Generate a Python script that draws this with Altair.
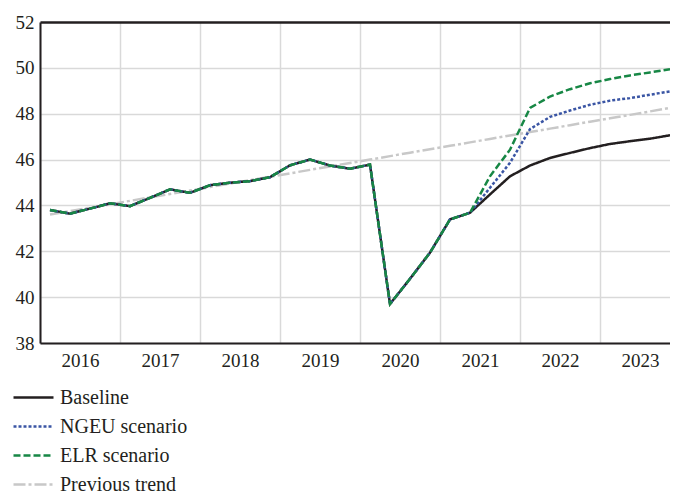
import altair as alt
import pandas as pd

years = [2016, 2017, 2018, 2019, 2020, 2021, 2022, 2023]
quarters = [f"{y}Q{q}" for y in years for q in (1, 2, 3, 4)]

baseline = [43.80, 43.64, 43.86, 44.09, 43.97, 44.33, 44.70, 44.55,
            44.88, 44.99, 45.06, 45.23, 45.75, 46.00, 45.74, 45.60,
            45.78, 39.70, 40.80, 41.94, 43.39, 43.68, 44.48, 45.27,
            45.74, 46.07, 46.29, 46.50, 46.68, 46.80, 46.91, 47.06]
ngeu = baseline[:22] + [44.77, 45.86, 47.33, 47.86, 48.14, 48.39, 48.57, 48.68, 48.83, 48.97]
elr = baseline[:22] + [45.27, 46.43, 48.25, 48.75, 49.07, 49.33, 49.51, 49.67, 49.80, 49.94]
trend = [43.60, 43.75, 43.90, 44.05, 44.20, 44.35, 44.50, 44.65,
         44.80, 44.95, 45.10, 45.25, 45.40, 45.55, 45.70, 45.85,
         46.00, 46.15, 46.30, 46.45, 46.60, 46.75, 46.90, 47.05,
         47.20, 47.35, 47.50, 47.65, 47.80, 47.95, 48.10, 48.25]

series_names = ["Baseline", "NGEU scenario", "ELR scenario", "Previous trend"]
series_colors = ["#231f20", "#3a55a4", "#178745", "#c8c8c8"]
series_dashes = [[1, 0], [3, 2], [7, 3], [12, 3, 3, 3]]

rows = []
draw_order = [("Previous trend", trend), ("Baseline", baseline),
              ("NGEU scenario", ngeu), ("ELR scenario", elr)]
for k, (name, vals) in enumerate(draw_order):
    for i, (q, v) in enumerate(zip(quarters, vals)):
        yr = int(q[:4]); qn = int(q[-1])
        rows.append({"quarter": q, "t": yr + (qn - 0.5) / 4, "value": v,
                     "series": name, "z": k})
df = pd.DataFrame(rows)

FONT = "Liberation Serif"
TXT = "#231f20"

chart = alt.Chart(df).mark_line(strokeWidth=2.5).encode(
    x=alt.X("t:Q", scale=alt.Scale(domain=[2016, 2023.875], nice=False, zero=False),
            axis=alt.Axis(title=None, values=years, format="d", labelOffset=40,
                          grid=True, gridColor="#d9d9d9", gridWidth=1.5,
                          ticks=False, labelPadding=8, labelFlush=False,
                          labelOverlap=False, domainColor="#231f20", domainWidth=2)),
    y=alt.Y("value:Q", scale=alt.Scale(domain=[38, 52], nice=False, zero=False),
            axis=alt.Axis(title=None, values=list(range(38, 53, 2)),
                          grid=True,
                          gridColor=alt.condition("datum.value == 52", alt.value("#231f20"), alt.value("#d9d9d9")),
                          gridWidth=alt.condition("datum.value == 52", alt.value(2.5), alt.value(1.5)),
                          ticks=False, labelPadding=6,
                          domainColor="#231f20", domainWidth=2)),
    color=alt.Color("series:N", scale=alt.Scale(domain=series_names, range=series_colors),
                    legend=alt.Legend(title=None, orient="none", legendX=-28, legendY=361,
                                      direction="vertical", symbolType="stroke",
                                      symbolSize=1600, symbolStrokeWidth=2.5,
                                      labelFont=FONT, labelFontSize=20, labelColor=TXT,
                                      clipHeight=29, rowPadding=0, padding=0, labelOffset=5)),
    strokeDash=alt.StrokeDash("series:N", scale=alt.Scale(domain=series_names, range=series_dashes),
                              legend=None),
    order=alt.Order("z:Q"),
    detail="series:N",
).properties(
    width=630, height=321,
    autosize=alt.AutoSizeParams(type="none"),
    padding={"left": 32, "top": 14, "right": 0, "bottom": 150},
).configure_axis(
    labelFont=FONT, labelFontSize=19, labelColor=TXT,
).configure_view(stroke=None)

chart.save("out.html", embed_options={"renderer": "svg", "actions": False})
